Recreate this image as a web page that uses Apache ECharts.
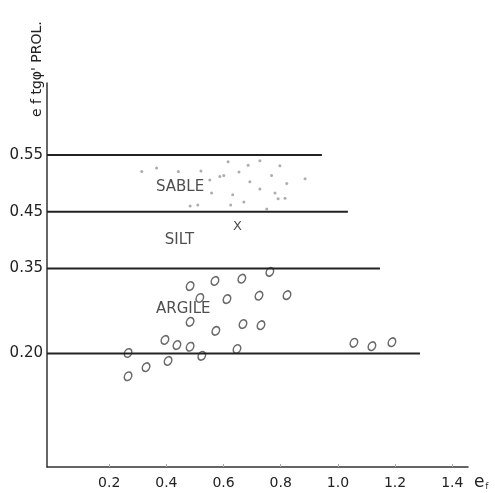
<!DOCTYPE html>
<html>
<head>
<meta charset="utf-8">
<script src="https://cdn.jsdelivr.net/npm/echarts@6/dist/echarts.min.js"></script>
<style>
html,body{margin:0;padding:0;background:#fff;}
#main{width:495px;height:493px;}
</style>
</head>
<body>
<div id="main"></div>
<script>
// tick labels
var xTicks = [0.2, 0.4, 0.6, 0.8, 1.0, 1.2, 1.4];
var yTicks = [0.20, 0.35, 0.45, 0.55];

// horizontal limits: [level, end of line on x]
var limits = [[0.55, 0.944], [0.45, 1.035], [0.35, 1.147], [0.20, 1.287]];

// SABLE stipple
var sable = [
	[0.314,0.521],[0.366,0.527],[0.442,0.521],[0.521,0.522],[0.552,0.506],
	[0.558,0.483],[0.587,0.512],[0.601,0.514],[0.616,0.538],[0.654,0.520],
	[0.686,0.532],[0.727,0.540],[0.797,0.531],[0.768,0.514],[0.692,0.503],
	[0.821,0.500],[0.885,0.508],[0.727,0.490],[0.780,0.483],[0.815,0.474],
	[0.791,0.473],[0.632,0.480],[0.671,0.467],[0.625,0.462],[0.751,0.455],
	[0.483,0.460],[0.510,0.462]
];

// ARGILE circles
var argile = [
	[0.266,0.201],[0.266,0.160],[0.329,0.176],[0.406,0.187],[0.395,0.224],
	[0.437,0.215],[0.483,0.212],[0.524,0.196],[0.647,0.208],[0.483,0.256],
	[0.573,0.240],[0.668,0.252],[0.731,0.250],[0.483,0.319],[0.570,0.328],
	[0.664,0.332],[0.762,0.344],[0.517,0.298],[0.612,0.296],[0.724,0.302],
	[0.822,0.303],[1.056,0.219],[1.119,0.213],[1.189,0.220]
];

// silt point
var silt = [[0.649,0.424]];

// zone names
var zones = [['SABLE',0.448,0.494],['SILT',0.446,0.400],['ARGILE',0.459,0.279]];

var ink = '#222';
var chart = echarts.init(document.getElementById('main'));

var series = [];
limits.forEach(function (l) {
	series.push({
		type: 'line',
		data: [[-0.0175, l[0]], [l[1], l[0]]],
		symbol: 'none',
		silent: true,
		lineStyle: { color: '#222', width: 2 }
	});
});
series.push({
	type: 'scatter',
	data: sable,
	symbol: 'circle',
	symbolSize: 3,
	itemStyle: { color: '#999' }
});
series.push({
	type: 'scatter',
	data: argile,
	symbol: 'circle',
	symbolSize: [9, 7],
	symbolRotate: 60,
	itemStyle: { color: 'rgba(0,0,0,0)', borderColor: '#444', borderWidth: 1.5 }
});
series.push({
	type: 'scatter',
	data: silt,
	symbol: 'circle',
	symbolSize: 1,
	itemStyle: { color: 'rgba(0,0,0,0)' },
	label: {
		show: true, position: 'inside', formatter: 'X',
		fontFamily: 'DejaVu Sans', fontSize: 13, color: ink
	}
});
series.push({
	type: 'scatter',
	data: zones.map(function (z) { return { name: z[0], value: [z[1], z[2]] }; }),
	symbol: 'circle',
	symbolSize: 1,
	itemStyle: { color: 'rgba(0,0,0,0)' },
	label: {
		show: true, position: 'inside', formatter: '{b}',
		fontFamily: 'DejaVu Sans', fontSize: 15, color: ink
	}
});

chart.setOption({
	animation: false,
	grid: { left: 47, right: 27, top: 83, bottom: 26 },
	xAxis: {
		type: 'value',
		min: -0.0175,
		max: 1.455,
		splitLine: { show: false },
		axisLine: { lineStyle: { color: '#333', width: 1.5 } },
		axisTick: { show: true, inside: true, length: 3, customValues: xTicks, lineStyle: { color: '#aaa' } },
		axisLabel: {
			customValues: xTicks,
			margin: 9,
			fontFamily: 'DejaVu Sans', fontSize: 14, color: ink,
			formatter: function (v) { return v.toFixed(1); }
		}
	},
	yAxis: {
		type: 'value',
		min: 0,
		max: 0.677,
		splitLine: { show: false },
		axisLine: { show: true, onZero: false, lineStyle: { color: '#333', width: 1.5 } },
		axisTick: { show: false },
		axisLabel: {
			customValues: yTicks,
			margin: 4,
			fontFamily: 'DejaVu Sans', fontSize: 15, color: ink,
			formatter: function (v) { return v.toFixed(2); }
		}
	},
	graphic: [
		{
			type: 'text',
			x: 30, y: 117,
			rotation: Math.PI / 2,
			style: {
				text: "e f tgφ' PROL.",
				fontFamily: 'DejaVu Sans', fontSize: 14, fill: ink
			}
		},
		{
			type: 'text',
			x: 474, y: 474,
			style: {
				text: '{e|e}{f|f}',
				rich: {
					e: { fontFamily: 'DejaVu Sans', fontSize: 17, fill: ink },
					f: { fontFamily: 'DejaVu Sans', fontSize: 8, fill: ink, padding: [8, 0, 0, 1] }
				}
			}
		}
	],
	series: series
});
</script>
</body>
</html>
